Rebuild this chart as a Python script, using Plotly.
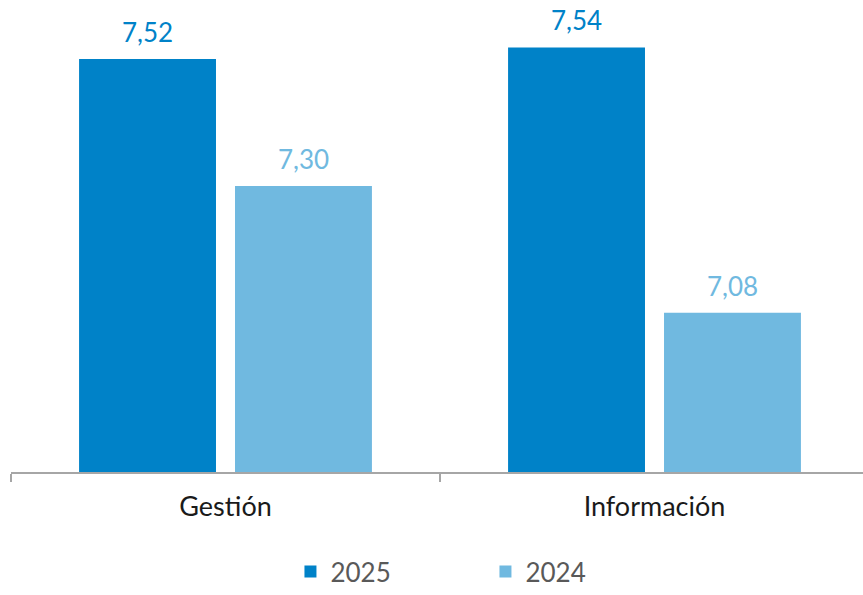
import plotly.graph_objects as go

categories = ["Gestión", "Información"]
values_2025 = [7.52, 7.54]
values_2024 = [7.30, 7.08]
series_names = ["2025", "2024"]

color_2025 = "#0082C8"
color_2024 = "#70B9E0"

BARGAP = 0.273
BARGROUPGAP = 0.122


def fmt(v):
    return f"{v:.2f}".replace(".", ",")


slot = (1 - BARGAP) / 2

fig = go.Figure()
annotations = []
for k, (name, vals, col) in enumerate([(series_names[0], values_2025, color_2025),
                                       (series_names[1], values_2024, color_2024)]):
    fig.add_trace(go.Bar(
        x=categories, y=vals, name=name,
        marker=dict(color=col, line=dict(width=0)),
    ))
    # value label centred over each bar of this series
    offset = (k - 0.5) * slot
    for i, v in enumerate(vals):
        annotations.append(dict(
            x=i + offset, y=v, xref="x", yref="y", text=fmt(v),
            showarrow=False, yanchor="bottom", yshift=9,
            font=dict(color=col, size=26, family="Lato"),
        ))

fig.update_layout(
    width=863, height=595,
    margin=dict(l=11, r=0, t=10, b=123),
    paper_bgcolor="white", plot_bgcolor="white",
    font=dict(family="Lato", size=27, color="#1a1a1a"),
    barmode="group", bargap=BARGAP, bargroupgap=BARGROUPGAP,
    showlegend=True,
    annotations=annotations,
    legend=dict(orientation="h", x=0.328, xanchor="left",
                yref="container", y=0.0, yanchor="bottom",
                font=dict(size=26, color="#595959"),
                entrywidth=150, entrywidthmode="pixels",
                traceorder="normal"),
    xaxis=dict(type="category", range=[-0.5, 1.486], showline=True,
               linecolor="#a6a6a6", linewidth=1.5,
               ticks="outside", tickson="boundaries", ticklen=8, tickcolor="#a6a6a6",
               tickwidth=1.5, showgrid=False, automargin=False, ticklabelstandoff=10,
               tickfont=dict(size=27, color="#1a1a1a")),
    yaxis=dict(range=[6.804, 7.605], visible=False, showgrid=False, automargin=False),
)

fig.write_html("out.html")
